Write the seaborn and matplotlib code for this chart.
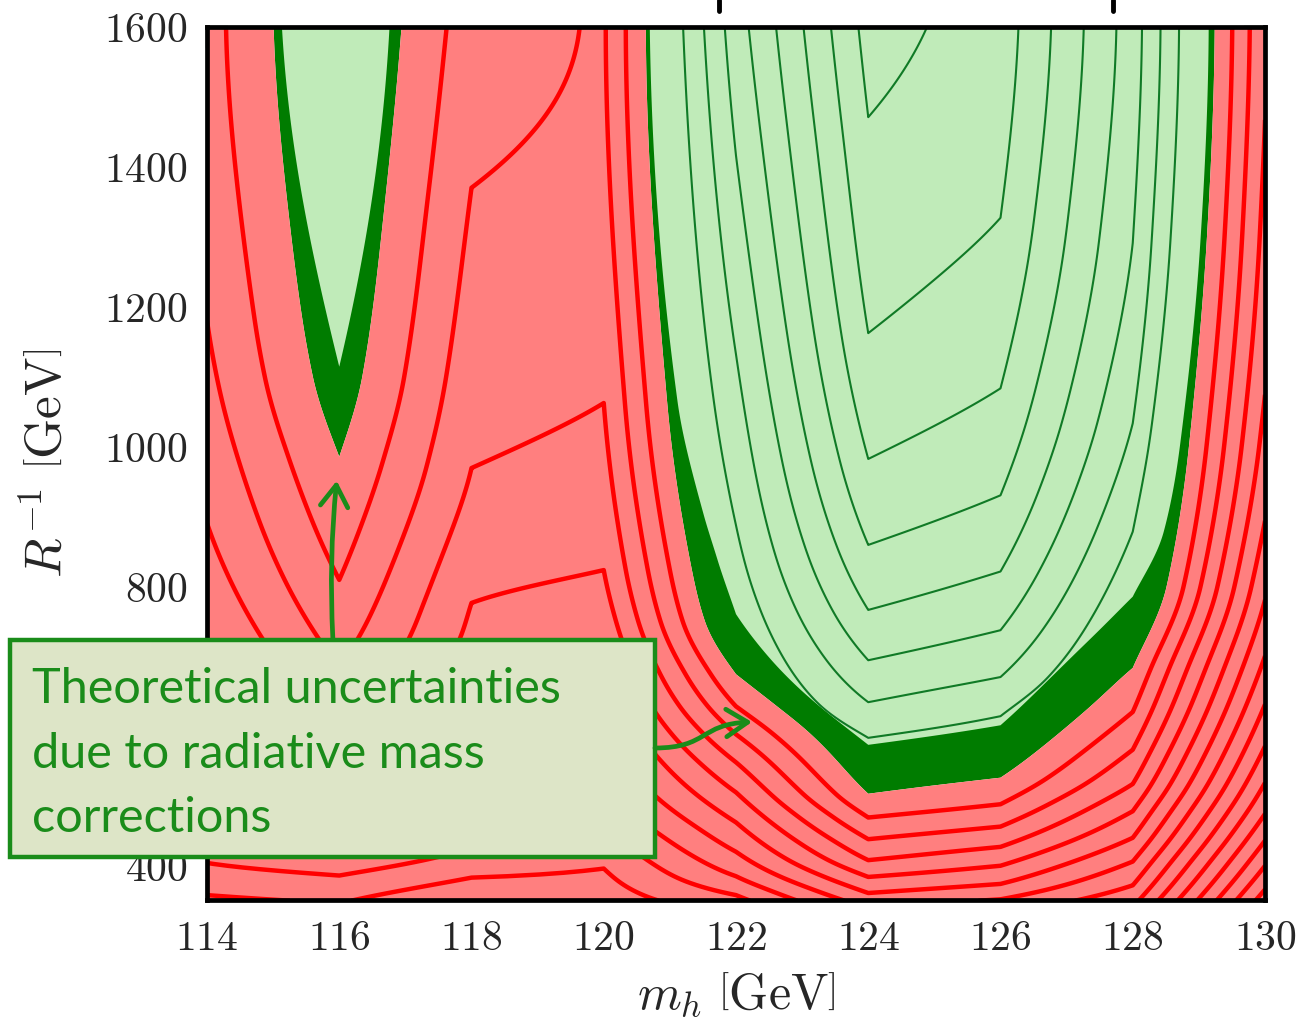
import numpy as np
import matplotlib
matplotlib.use("Agg")
import matplotlib.pyplot as plt
import seaborn as sns
from matplotlib.patches import Rectangle, FancyArrowPatch
from matplotlib.path import Path
from matplotlib.lines import Line2D
from matplotlib.ticker import FixedLocator, FixedFormatter

sns.set_theme(style="ticks")
plt.rcParams["mathtext.fontset"] = "cm"
plt.rcParams["font.family"] = ["Lato", "DejaVu Sans"]

# Higgs-mass columns of the scan [GeV]
m_h = [114, 116, 118, 120, 122, 124, 126, 128, 130]

# Allowed-region statistic: (R^-1 [GeV], value) knots along each m_h column
allowed_mh114 = [(1600, 11.3), (1000, 12.6), (350, 20.0)]
allowed_mh116 = [(1600, 8.3), (1114, 9.6), (800, 11.0), (350, 17.0)]
allowed_mh118 = [(1600, 11.72), (1000, 12.6), (350, 20.0)]
allowed_mh120 = [(1600, 11.81), (1066, 12.55), (900, 14.0), (800, 16.0), (600, 20.0), (350, 28.0)]
allowed_mh122 = [(1600, 5.46), (1066, 7.25), (837, 8.7), (760, 9.6), (650, 11.2), (500, 14.0), (350, 17.0)]
allowed_mh124 = [(1600, 0.64), (1000, 3.2), (800, 5.3), (700, 7.0), (573, 9.6), (450, 12.0), (350, 14.0)]
allowed_mh126 = [(1600, 1.45), (1000, 4.0), (800, 6.3), (700, 8.0), (601, 9.6), (450, 12.5), (350, 14.5)]
allowed_mh128 = [(1600, 5.5), (1291, 6.0), (1033, 7.0), (878, 8.0), (785, 9.6), (600, 12.5), (350, 17.0)]
allowed_mh130 = [(1600, 12.64), (1000, 14.0), (350, 24.0)]

# Goodness-of-fit values inside the allowed region (thin green contours)
fit_mh120 = [(1600, 11.81), (1066, 11.7), (600, 14.0), (350, 18.0)]
fit_mh122 = [(1600, 5.46), (1066, 7.25), (839, 8.24), (650, 9.47), (500, 10.5), (350, 12.0)]
fit_mh124 = [(1600, 0.64), (1471, 1.0), (1162, 2.0), (982, 3.0), (859, 4.0), (766, 5.0),
             (694, 6.0), (634, 7.0), (583, 8.0), (500, 9.2), (350, 11.0)]
fit_mh126 = [(1600, 1.45), (1327, 2.0), (1083, 3.0), (930, 4.0), (821, 5.0), (737, 6.0),
             (670, 7.0), (614, 8.0), (500, 9.5), (350, 11.0)]
fit_mh128 = [(1600, 5.5), (1291, 6.0), (1033, 7.0), (878, 8.0), (700, 9.5), (350, 13.0)]

# Same statistic with the radiative mass corrections pushed to their limit
shifted_mh114 = [(1600, 11.4), (1180, 12.0), (890, 13.0), (723, 14.0), (600, 15.2), (500, 16.4),
                 (404, 18.0), (358, 19.0), (350, 19.15)]
shifted_mh116 = [(1600, 8.62), (1300, 9.0), (1100, 9.45), (985, 10.0), (809, 11.0), (723, 11.65),
                 (650, 12.35), (550, 13.8), (450, 15.9), (386, 18.0), (346, 19.0)]
shifted_mh118 = [(1600, 11.55), (1370, 12.0), (969, 13.0), (776, 14.0), (723, 14.24), (650, 14.8),
                 (550, 15.8), (470, 16.9), (425, 18.0), (383, 19.0), (350, 19.9)]
shifted_mh120 = [(1600, 12.1), (1062, 13.0), (823, 14.0), (700, 15.0), (600, 16.0), (500, 17.2),
                 (396, 19.0), (350, 19.5)]
shifted_mh122 = [(1600, 5.5), (1062, 6.75), (823, 8.0), (750, 8.6), (674, 10.0), (628, 11.0),
                 (588, 12.0), (548, 13.0), (505, 14.0), (462, 15.0), (420, 16.0), (385, 17.0),
                 (358, 18.0), (350, 18.3)]
shifted_mh124 = [(1600, 1.5), (1100, 3.0), (850, 4.8), (700, 6.6), (600, 8.27), (503, 10.0),
                 (469, 11.0), (438, 12.0), (408, 13.0), (384, 14.0), (361, 15.0), (350, 15.5)]
shifted_mh126 = [(1600, 2.0), (1000, 4.5), (700, 7.2), (600, 8.6), (526, 10.0), (488, 11.0),
                 (456, 12.0), (427, 13.0), (400, 14.0), (374, 15.0), (352, 16.0), (350, 16.1)]
shifted_mh128 = [(1600, 5.32), (1000, 6.8), (800, 8.0), (683, 10.0), (620, 11.0), (566, 12.0),
                 (517, 13.0), (478, 14.0), (440, 15.0), (406, 16.0), (372, 17.0), (350, 17.7)]
shifted_mh130 = [(1600, 12.87), (1300, 13.3), (1000, 14.33), (800, 15.8), (700, 17.0), (600, 18.5),
                 (500, 20.4), (400, 23.0), (350, 24.5)]

# Contour levels
green_levels = [1, 2, 3, 4, 5, 6, 7, 8]
allowed_cut = 9.6
shifted_cut = 10.0
red_levels = [11, 12, 13, 14, 15, 16, 17, 18, 19, 20, 21, 22, 23, 24, 25, 26, 27, 28]

x_ticks = [114, 116, 118, 120, 122, 124, 126, 128, 130]
y_ticks = [400, 600, 800, 1000, 1200, 1400, 1600]

allowed_cols = [allowed_mh114, allowed_mh116, allowed_mh118, allowed_mh120, allowed_mh122,
                allowed_mh124, allowed_mh126, allowed_mh128, allowed_mh130]
fit_cols = [allowed_mh114, allowed_mh116, allowed_mh118, fit_mh120, fit_mh122,
            fit_mh124, fit_mh126, fit_mh128, allowed_mh130]
shifted_cols = [shifted_mh114, shifted_mh116, shifted_mh118, shifted_mh120, shifted_mh122,
                shifted_mh124, shifted_mh126, shifted_mh128, shifted_mh130]

r_inv = np.arange(350.0, 1600.01, 2.5)


def _end_slope(h0, h1, d0, d1):
    s = ((2 * h0 + h1) * d0 - h0 * d1) / (h0 + h1)
    if np.sign(s) != np.sign(d0):
        return 0.0
    if np.sign(d0) != np.sign(d1) and abs(s) > abs(3 * d0):
        return 3 * d0
    return s


def monotone_profile(xk, yk, xq):
    """Shape-preserving cubic (Fritsch-Carlson) through the knots of one column."""
    xk = np.asarray(xk, float)
    yk = np.asarray(yk, float)
    n = xk.size
    h = np.diff(xk)
    delta = np.diff(yk) / h
    d = np.zeros(n)
    if n == 2:
        d[:] = delta[0]
    else:
        for k in range(1, n - 1):
            if delta[k - 1] * delta[k] > 0:
                w1 = 2 * h[k] + h[k - 1]
                w2 = h[k] + 2 * h[k - 1]
                d[k] = (w1 + w2) / (w1 / delta[k - 1] + w2 / delta[k])
        d[0] = _end_slope(h[0], h[1], delta[0], delta[1])
        d[-1] = _end_slope(h[-1], h[-2], delta[-1], delta[-2])
    xq = np.clip(xq, xk[0], xk[-1])
    i = np.clip(np.searchsorted(xk, xq) - 1, 0, n - 2)
    t = (xq - xk[i]) / h[i]
    h00 = 2 * t**3 - 3 * t**2 + 1
    h10 = t**3 - 2 * t**2 + t
    h01 = -2 * t**3 + 3 * t**2
    h11 = t**3 - t**2
    return h00 * yk[i] + h10 * h[i] * d[i] + h01 * yk[i + 1] + h11 * h[i] * d[i + 1]


def column_field(columns):
    field = np.empty((r_inv.size, len(columns)))
    for j, knots in enumerate(columns):
        ys, vals = zip(*sorted(knots))
        field[:, j] = monotone_profile(ys, vals, r_inv)
    return field


allowed = column_field(allowed_cols)
fit = column_field(fit_cols)
shifted = column_field(shifted_cols)

RED_FILL = "#ff7f7f"
RED_LINE = "#ff0000"
LIGHT_GREEN = "#c0ebb9"
DARK_GREEN = "#007c00"
GREEN_LINE = "#107a26"
NOTE_GREEN = "#1a8c1a"

W, H = 1303, 1024
fig = plt.figure(figsize=(W / 100, H / 100), dpi=100)
ax = fig.add_axes([207 / W, 124 / H, 1058 / W, 873 / H])

ax.contourf(m_h, r_inv, shifted, levels=[-100, shifted_cut, 100],
            colors=[DARK_GREEN, RED_FILL], antialiased=True)
light = ax.contourf(m_h, r_inv, allowed, levels=[-100, allowed_cut],
                    colors=[LIGHT_GREEN], antialiased=True)
green = ax.contour(m_h, r_inv, fit, levels=green_levels, colors=GREEN_LINE, linewidths=1.5)
green.set_clip_path(light.get_paths()[0], transform=ax.transData)
ax.contour(m_h, r_inv, shifted, levels=red_levels, colors=RED_LINE, linewidths=3.2)

ax.set_xlim(114, 130)
ax.set_ylim(351, 1600)

ax.xaxis.set_major_locator(FixedLocator(x_ticks))
ax.xaxis.set_major_formatter(FixedFormatter([f"${v}$" for v in x_ticks]))
ax.yaxis.set_major_locator(FixedLocator(y_ticks))
ax.yaxis.set_major_formatter(FixedFormatter([f"${v}$" for v in y_ticks]))
ax.tick_params(axis="both", which="major", direction="in", top=True, right=True,
               length=15, width=1.6, color="black", labelsize=30, pad=14)
ax.minorticks_off()
for side in ax.spines.values():
    side.set_linewidth(3.4)
    side.set_color("black")
    side.set_zorder(5)

ax.set_xlabel(r"$m_h\ \left[\mathrm{GeV}\right]$", fontsize=36, va="center")
ax.xaxis.set_label_coords(0.5, -0.108)
ax.set_ylabel(r"$R^{-1}\ \left[\mathrm{GeV}\right]$", fontsize=37, va="center")
ax.yaxis.set_label_coords(-0.152, 0.5)


def fig_xy(px, py):
    return (px / W, 1 - py / H)


# Note box
x0, y0 = fig_xy(10, 857)
note = Rectangle((x0, y0), 645 / W, 217 / H, transform=fig.transFigure,
                 facecolor="#dde5c7", edgecolor=NOTE_GREEN, linewidth=3.2, zorder=20)
fig.add_artist(note)
for line, base in zip(["Theoretical uncertainties", "due to radiative mass", "corrections"],
                      [703, 768, 832]):
    tx, ty = fig_xy(32, base)
    fig.text(tx, ty, line, color=NOTE_GREEN, fontsize=35, va="baseline", ha="left", zorder=21)

# Arrows from the note
arrow_up = FancyArrowPatch(fig_xy(333, 641), fig_xy(337, 478), transform=fig.transFigure,
                           arrowstyle="->,head_length=0.7,head_width=0.45",
                           connectionstyle="arc3,rad=-0.04", mutation_scale=22,
                           color=NOTE_GREEN, linewidth=3.4, zorder=21)
fig.add_artist(arrow_up)

wiggle = Path([fig_xy(655, 748), fig_xy(708, 748), fig_xy(700, 724), fig_xy(752, 722)],
              [Path.MOVETO, Path.CURVE4, Path.CURVE4, Path.CURVE4])
arrow_side = FancyArrowPatch(path=Path(np.array([fig.transFigure.transform(p) for p in wiggle.vertices]),
                                       wiggle.codes),
                             arrowstyle="->,head_length=0.7,head_width=0.45", mutation_scale=22,
                             color=NOTE_GREEN, linewidth=3.4, zorder=21, transform=None)
fig.add_artist(arrow_side)

# Frame marks along the upper edge
for px in (719, 1113):
    fig.add_artist(Line2D([px / W, px / W], [1.0, 1 - 11 / H], color="black", linewidth=3.5))

fig.savefig("out.png", dpi=100)
